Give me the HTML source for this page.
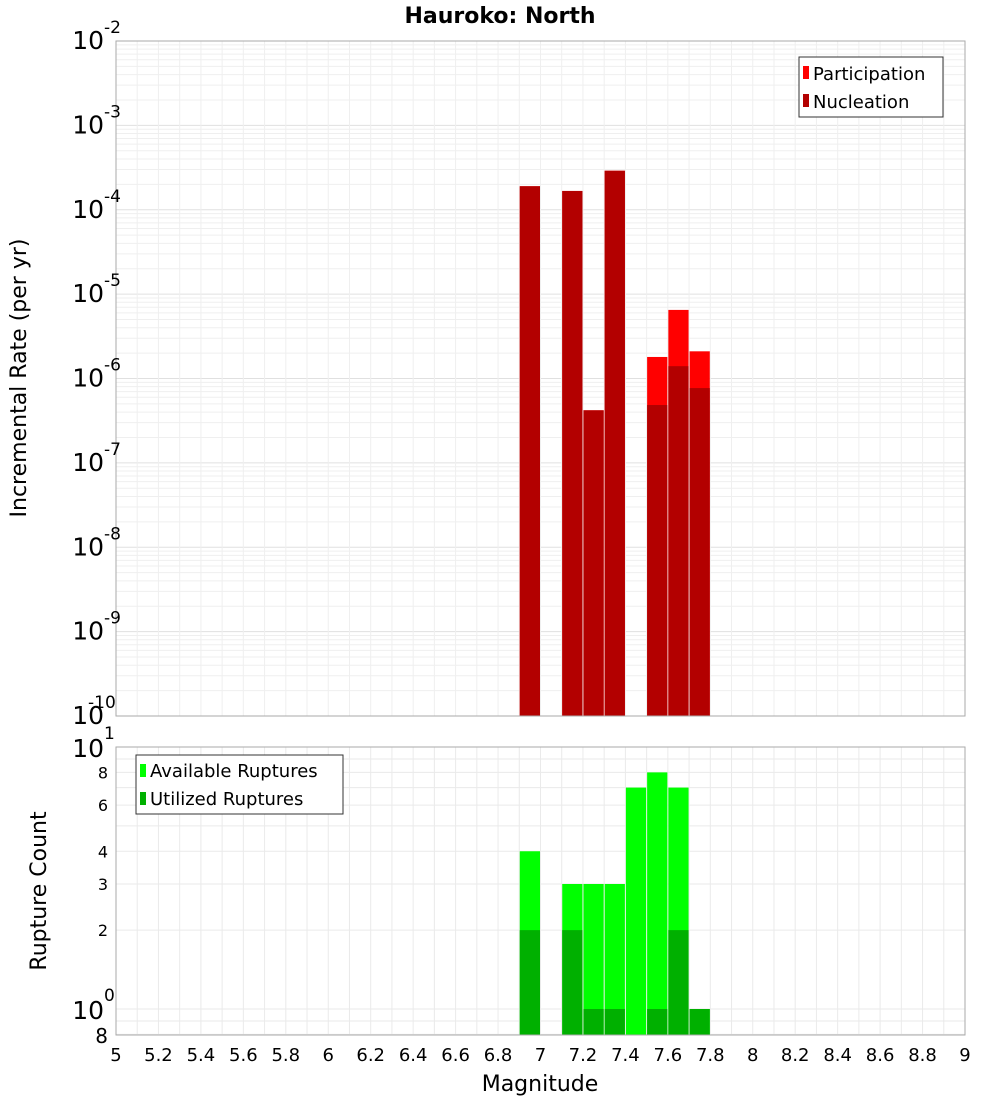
<!DOCTYPE html>
<html><head><meta charset="utf-8"><style>
body{margin:0;background:#fff;}
svg{display:block;font-family:"DejaVu Sans","Liberation Sans",sans-serif;}
</style></head><body>
<svg id="c" width="1000" height="1100" xmlns="http://www.w3.org/2000/svg">
<text x="500" y="23" text-anchor="middle" font-size="22" font-weight="bold">Hauroko: North</text>
<text transform="translate(26,378) rotate(-90)" text-anchor="middle" font-size="22">Incremental Rate (per yr)</text>
<text transform="translate(46,891) rotate(-90)" text-anchor="middle" font-size="22">Rupture Count</text>
<text x="540" y="1091" text-anchor="middle" font-size="22">Magnitude</text>
<g id="topg"></g><g id="botg"></g>
<g>
<rect x="799" y="57" width="144" height="60" fill="#fff" stroke="#333"/>
<rect x="803" y="66" width="6" height="13" fill="#ff0000"/>
<text x="813" y="80" font-size="18">Participation</text>
<rect x="803" y="94" width="6" height="13" fill="#b30000"/>
<text x="813" y="108" font-size="18">Nucleation</text>
</g>
<g>
<rect x="136" y="755" width="207" height="59" fill="#fff" stroke="#333"/>
<rect x="140" y="764" width="6" height="13" fill="#00ff00"/>
<text x="150" y="777" font-size="18">Available Ruptures</text>
<rect x="140" y="792" width="6" height="13" fill="#00b000"/>
<text x="150" y="805" font-size="18">Utilized Ruptures</text>
</g>
</svg>
<script>
const mags=[6.95,7.15,7.25,7.35,7.55,7.65,7.75];
const participation=[1.9e-4,1.67e-4,4.2e-7,2.9e-4,1.8e-6,6.5e-6,2.1e-6];
const nucleation=[1.9e-4,1.67e-4,4.2e-7,2.9e-4,4.85e-7,1.4e-6,7.7e-7];
const cntMags=[6.95,7.15,7.25,7.35,7.45,7.55,7.65,7.75];
const available=[4,3,3,3,7,8,7,1];
const utilized=[2,2,1,1,0,1,2,1];
const xTicks=[5,5.2,5.4,5.6,5.8,6,6.2,6.4,6.6,6.8,7,7.2,7.4,7.6,7.8,8,8.2,8.4,8.6,8.8,9];
const topExps=[-2,-3,-4,-5,-6,-7,-8,-9,-10];
const botTicks=[2,3,4,6,8];

const NS="http://www.w3.org/2000/svg";
const X0=116,X1=965;
const xS=m=>X0+(m-5)/4*(X1-X0);
const T0=41,T1=716;
const yT=v=>T0+(-2-Math.log10(v))*(T1-T0)/8;
const B0=747,B1=1035;
const yB=v=>1009-Math.log10(v)*262;
function el(p,t,a){const e=document.createElementNS(NS,t);for(const k in a)e.setAttribute(k,a[k]);p.appendChild(e);return e;}
const topG=document.getElementById('topg'),botG=document.getElementById('botg');
let g=el(topG,'g',{});


for(let e=-10;e<-2;e++)for(let k=1;k<10;k++){const yy=yT(k*Math.pow(10,e));el(g,'line',{x1:X0,x2:X1,y1:yy,y2:yy,stroke:k==1?'#e0e0e0':'#efefef'});}
for(let i=0;i<=40;i++){const m=5+i*0.1;el(g,'line',{x1:xS(m),x2:xS(m),y1:T0,y2:T1,stroke:'#efefef'});}
mags.forEach((m,i)=>{
 const r1=el(topG,'rect',{x:xS(m-0.05)+0.5,width:xS(m+0.05)-xS(m-0.05)-1,y:yT(participation[i]),height:T1-yT(participation[i]),fill:'#ff0000'});
 
 
 const r2=el(topG,'rect',{x:xS(m-0.05)+0.5,width:xS(m+0.05)-xS(m-0.05)-1,y:yT(nucleation[i]),height:T1-yT(nucleation[i]),fill:'#b30000'});
 
 
});
el(topG,'rect',{x:X0,y:T0,width:X1-X0,height:T1-T0,fill:'none',stroke:'#aaa'});
topExps.forEach(e=>{
 const t=el(topG,'text',{x:104,y:yT(Math.pow(10,e))+8,'text-anchor':'end','font-size':25});
 
 
 t.textContent='10';
 const s=el(topG,'text',{x:104,y:yT(Math.pow(10,e))-8,'font-size':17});
 s.textContent=String(e);
 
 
 if(e<=-10){s.setAttribute('x',88);}
});
let g2=el(botG,'g',{});


[0.8,0.9,1,2,3,4,5,6,7,8,9].forEach(v=>el(g2,'line',{x1:X0,x2:X1,y1:yB(v),y2:yB(v),stroke:'#eaeaea'}));
for(let i=0;i<=40;i++){const m=5+i*0.1;el(g2,'line',{x1:xS(m),x2:xS(m),y1:B0,y2:B1,stroke:'#eaeaea'});}
cntMags.forEach((m,i)=>{
 const ya=yB(available[i]);
 const r1=el(botG,'rect',{x:xS(m-0.05)+0.5,width:xS(m+0.05)-xS(m-0.05)-1,y:ya,height:B1-ya,fill:'#00ff00'});
 
 
 if(utilized[i]>0){const yu=yB(utilized[i]);
 const r2=el(botG,'rect',{x:xS(m-0.05)+0.5,width:xS(m+0.05)-xS(m-0.05)-1,y:yu,height:B1-yu,fill:'#00b000'});
 
 }
});
el(botG,'rect',{x:X0,y:B0,width:X1-X0,height:B1-B0,fill:'none',stroke:'#aaa'});
botTicks.forEach(v=>{const t=el(botG,'text',{x:108,y:yB(v)+6,'text-anchor':'end','font-size':16});t.textContent=v;
 
 });
[[1,'10','1'],[0,'10','0']].forEach(([e,b,s])=>{const yy=yB(Math.pow(10,e));
 const t=el(botG,'text',{x:104,y:yy+10,'text-anchor':'end','font-size':25});t.textContent=b;
 
 
 const u=el(botG,'text',{x:104,y:yy-8,'font-size':17});u.textContent=s;
 
 });
{const t=el(botG,'text',{x:108,y:1043,'text-anchor':'end','font-size':20});t.textContent='8';
 
 }
xTicks.forEach(m=>{const t=el(botG,'text',{x:xS(m),y:1061,'text-anchor':'middle','font-size':18});t.textContent=String(m);
 
 });
</script>
</body></html>
